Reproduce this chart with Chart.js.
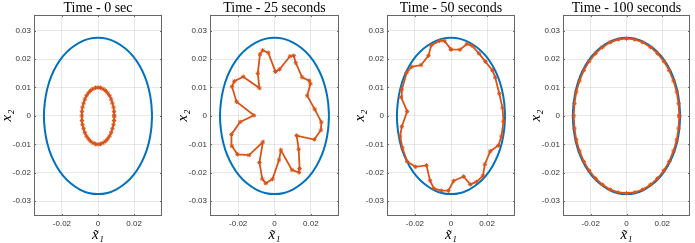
<!DOCTYPE html>
<html>
<head>
<meta charset="utf-8">
<script src="https://cdn.jsdelivr.net/npm/chart.js@4/dist/chart.umd.min.js"></script>
<style>
  body { margin: 0; background: #fff; }
  #wrap { position: relative; width: 695px; height: 243px; }
  .pane { position: absolute; top: 0; height: 243px; }
</style>
</head>
<body>
<div id="wrap">
  <div class="pane" style="left:0px;width:167px"><canvas id="c0"></canvas></div>
  <div class="pane" style="left:176px;width:168px"><canvas id="c1"></canvas></div>
  <div class="pane" style="left:353px;width:167px"><canvas id="c2"></canvas></div>
  <div class="pane" style="left:529px;width:166px"><canvas id="c3"></canvas></div>
</div>
<script>
// panel titles and ticks
var titles = ['Time - 0 sec', 'Time - 25 seconds', 'Time - 50 seconds', 'Time - 100 seconds'];
var xTicks = [-0.02, 0, 0.02];
var xTickLabels = ['-0.02', '0', '0.02'];
var yTicks = [-0.03, -0.02, -0.01, 0, 0.01, 0.02, 0.03];
var yTickLabels = ['-0.03', '-0.02', '-0.01', '0', '0.01', '0.02', '0.03'];

// blue ellipse (same in every panel)
var ellipseX = [0.03, 0.0295, 0.0282, 0.026, 0.023, 0.0193, 0.015, 0.0103, 0.0052,
  0, -0.0052, -0.0103, -0.015, -0.0193, -0.023, -0.026, -0.0282, -0.0295,
  -0.03, -0.0295, -0.0282, -0.026, -0.023, -0.0193, -0.015, -0.0103, -0.0052,
  0, 0.0052, 0.0103, 0.015, 0.0193, 0.023, 0.026, 0.0282, 0.0295, 0.03];
var ellipseY = [0, 0.0048, 0.0094, 0.0138, 0.0177, 0.0211, 0.0238, 0.0258, 0.0271,
  0.0275, 0.0271, 0.0258, 0.0238, 0.0211, 0.0177, 0.0138, 0.0094, 0.0048,
  0, -0.0048, -0.0094, -0.0138, -0.0177, -0.0211, -0.0238, -0.0258, -0.0271,
  -0.0275, -0.0271, -0.0258, -0.0238, -0.0211, -0.0177, -0.0138, -0.0094, -0.0048, 0];

// orange states, t = 0
var t0X = [0.009, 0.0089, 0.0086, 0.008, 0.0073, 0.0064, 0.0053, 0.0041, 0.0028, 0.0014,
  0, -0.0014, -0.0028, -0.0041, -0.0053, -0.0064, -0.0073, -0.008, -0.0086, -0.0089,
  -0.009, -0.0089, -0.0086, -0.008, -0.0073, -0.0064, -0.0053, -0.0041, -0.0028, -0.0014,
  0, 0.0014, 0.0028, 0.0041, 0.0053, 0.0064, 0.0073, 0.008, 0.0086, 0.0089, 0.009];
var t0Y = [0, 0.0016, 0.0031, 0.0045, 0.0059, 0.0071, 0.0081, 0.0089, 0.0095, 0.0099,
  0.01, 0.0099, 0.0095, 0.0089, 0.0081, 0.0071, 0.0059, 0.0045, 0.0031, 0.0016,
  0, -0.0016, -0.0031, -0.0045, -0.0059, -0.0071, -0.0081, -0.0089, -0.0095, -0.0099,
  -0.01, -0.0099, -0.0095, -0.0089, -0.0081, -0.0071, -0.0059, -0.0045, -0.0031, -0.0016, 0];

// t = 25
var t25X = [0.0005, 0.0028, 0.0085, 0.0106, 0.0117, 0.0152, 0.0191, 0.0198, 0.018, 0.0221,
  0.0258, 0.0255, 0.0219, 0.0122, 0.0133, 0.0138, 0.0135, 0.0096, 0.0035, 0.0025,
  -0.0011, -0.0048, -0.0067, -0.0083, -0.0064, -0.014, -0.0204, -0.0234, -0.0237, -0.0189,
  -0.0113, -0.0209, -0.0234, -0.0221, -0.0172, -0.0083, -0.0092, -0.008, -0.0065, -0.0034, 0.0005];
var t25Y = [0.0156, 0.0164, 0.021, 0.0212, 0.0187, 0.0136, 0.0124, 0.0113, 0.0071, 0.0024,
  -0.0022, -0.005, -0.0083, -0.0069, -0.0117, -0.0185, -0.0199, -0.019, -0.012, -0.0155,
  -0.0222, -0.0237, -0.0222, -0.0164, -0.0092, -0.0138, -0.0135, -0.0106, -0.0065, -0.0021,
  0.0002, 0.005, 0.0103, 0.0122, 0.0138, 0.0098, 0.015, 0.0217, 0.0231, 0.0222, 0.0156];

// t = 50
var t50X = [0, 0.005, 0.0088, 0.0116, 0.0155, 0.0191, 0.023, 0.0245, 0.0268, 0.0286,
  0.0291, 0.028, 0.0263, 0.0218, 0.0188, 0.0177, 0.0141, 0.0107, 0.007, 0.0014,
  -0.0014, -0.0054, -0.0095, -0.0116, -0.0136, -0.0198, -0.0243, -0.027, -0.0282, -0.0273,
  -0.0243, -0.0277, -0.0273, -0.0246, -0.0218, -0.0166, -0.0125, -0.0109, -0.0064, -0.0036, 0];
var t50Y = [0.0234, 0.0233, 0.0253, 0.0247, 0.022, 0.0191, 0.016, 0.0136, 0.0078, 0.0028,
  -0.0019, -0.0071, -0.0104, -0.0124, -0.017, -0.0211, -0.0232, -0.0241, -0.0213, -0.0229,
  -0.0263, -0.0263, -0.0255, -0.0228, -0.0174, -0.0179, -0.016, -0.0112, -0.0071, -0.0038,
  0.0016, 0.0066, 0.0092, 0.0152, 0.0173, 0.0179, 0.0212, 0.0249, 0.0264, 0.0264, 0.0234];

// t = 100
var t100X = [0.0295, 0.0291, 0.0281, 0.0263, 0.0239, 0.0209, 0.0173, 0.0134, 0.0091, 0.0046,
  0, -0.0046, -0.0091, -0.0134, -0.0173, -0.0209, -0.0239, -0.0263, -0.0281, -0.0291,
  -0.0295, -0.0291, -0.0281, -0.0263, -0.0239, -0.0209, -0.0173, -0.0134, -0.0091, -0.0046,
  0, 0.0046, 0.0091, 0.0134, 0.0173, 0.0209, 0.0239, 0.0263, 0.0281, 0.0291, 0.0295];
var t100Y = [0, 0.0043, 0.0084, 0.0123, 0.016, 0.0192, 0.022, 0.0242, 0.0259, 0.0269,
  0.0272, 0.0269, 0.0259, 0.0242, 0.022, 0.0192, 0.016, 0.0123, 0.0084, 0.0043,
  0, -0.0043, -0.0084, -0.0123, -0.016, -0.0192, -0.022, -0.0242, -0.0259, -0.0269,
  -0.0272, -0.0269, -0.0259, -0.0242, -0.022, -0.0192, -0.016, -0.0123, -0.0084, -0.0043, 0];

var statesX = [t0X, t25X, t50X, t100X];
var statesY = [t0Y, t25Y, t50Y, t100Y];

function pts(xs, ys) {
    return xs.map(function(v, i) { return {x: v, y: ys[i]}; });
}

// axes box on all four sides, with small inward tick marks
var boxPlugin = {
    id: 'box',
    afterDraw: function(chart) {
        var a = chart.chartArea, ctx = chart.ctx;
        var sx = chart.scales.x, sy = chart.scales.y;
        ctx.save();
        ctx.strokeStyle = '#666';
        ctx.lineWidth = 1;
        ctx.strokeRect(a.left + 0.5, a.top + 0.5, a.right - a.left - 1, a.bottom - a.top - 1);
        ctx.beginPath();
        xTicks.forEach(function(v) {
            var px = Math.round(sx.getPixelForValue(v)) + 0.5;
            ctx.moveTo(px, a.bottom); ctx.lineTo(px, a.bottom - 2);
            ctx.moveTo(px, a.top); ctx.lineTo(px, a.top + 2);
        });
        yTicks.forEach(function(v) {
            var py = Math.round(sy.getPixelForValue(v)) + 0.5;
            ctx.moveTo(a.left, py); ctx.lineTo(a.left + 2, py);
            ctx.moveTo(a.right, py); ctx.lineTo(a.right - 2, py);
        });
        ctx.stroke();
        ctx.restore();
    }
};

for (var k = 0; k < 4; k++) {
    var ctx = document.getElementById('c' + k).getContext('2d');
    new Chart(ctx, {
        type: 'scatter',
        data: {
            datasets: [{
                data: pts(statesX[k], statesY[k]),
                showLine: true,
                borderColor: '#D95319',
                backgroundColor: '#D95319',
                borderWidth: 1.8,
                pointStyle: 'star',
                pointRadius: 2.2,
                pointBorderWidth: 1,
                tension: 0
            }, {
                data: pts(ellipseX, ellipseY),
                showLine: true,
                borderColor: '#0072BD',
                borderWidth: 2,
                pointRadius: 0,
                tension: 0.35
            }]
        },
        options: {
            responsive: true,
            maintainAspectRatio: false,
            animation: false,
            layout: { padding: { left: 0, right: 2, top: 0, bottom: 0 } },
            plugins: {
                legend: { display: false },
                tooltip: { enabled: false },
                title: {
                    display: true,
                    text: titles[k],
                    fullSize: false,
                    color: '#000',
                    font: { family: 'Liberation Serif', size: 14, weight: 'normal', lineHeight: 1 },
                    padding: { top: 1, bottom: 0 }
                }
            },
            scales: {
                x: {
                    type: 'linear',
                    min: -0.0355,
                    max: 0.0355,
                    afterBuildTicks: function(s) { s.ticks = xTicks.map(function(v) { return {value: v}; }); },
                    afterFit: function(s) { s.height = 27; },
                    ticks: {
                        color: '#333',
                        font: { family: 'Liberation Sans', size: 8 },
                        padding: 3,
                        maxRotation: 0,
                        callback: function(v) { return xTickLabels[xTicks.indexOf(v)]; }
                    },
                    grid: { color: 'rgba(0,0,0,0.09)', drawTicks: false },
                    border: { display: false },
                    title: {
                        display: true,
                        text: 'x\u0303\u2081',
                        color: '#000',
                        font: { family: 'Liberation Serif', style: 'italic', size: 15, lineHeight: 1 },
                        padding: { top: 0, bottom: 0 }
                    }
                },
                y: {
                    type: 'linear',
                    min: -0.0352,
                    max: 0.0355,
                    afterBuildTicks: function(s) { s.ticks = yTicks.map(function(v) { return {value: v}; }); },
                    afterFit: function(s) { s.width = 34; },
                    ticks: {
                        color: '#333',
                        font: { family: 'Liberation Sans', size: 8 },
                        padding: 3,
                        callback: function(v) { return yTickLabels[yTicks.indexOf(v)]; }
                    },
                    grid: { color: 'rgba(0,0,0,0.09)', drawTicks: false },
                    border: { display: false },
                    title: {
                        display: true,
                        text: 'x\u2082',
                        color: '#000',
                        font: { family: 'Liberation Serif', style: 'italic', size: 15, lineHeight: 1 },
                        padding: { top: 0, bottom: 0 }
                    }
                }
            }
        },
        plugins: [boxPlugin]
    });
}
</script>
</body>
</html>
